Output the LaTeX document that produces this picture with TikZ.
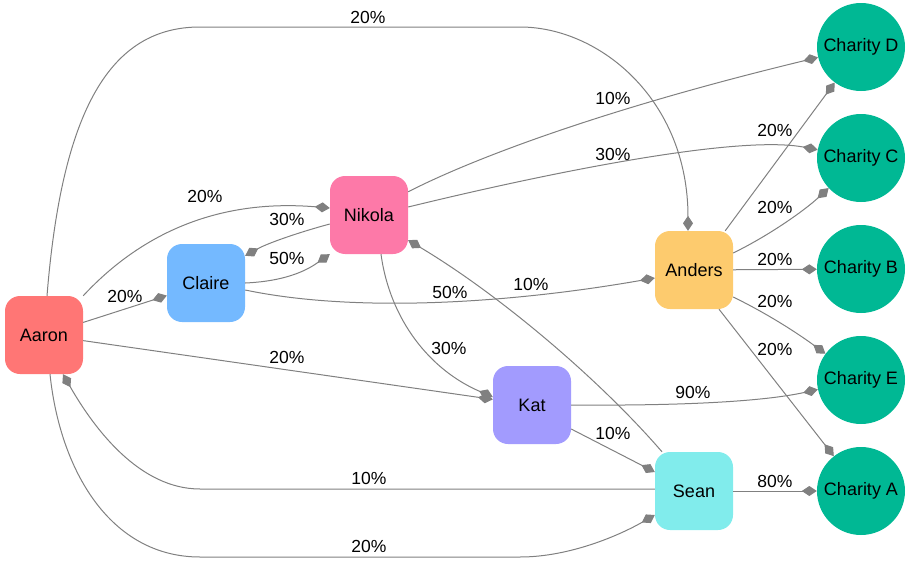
\documentclass[tikz,border=0pt]{standalone}
\usepackage{fontspec}
\setmainfont{Liberation Sans}
\usepackage{xcolor}
\usetikzlibrary{arrows.meta}
\definecolor{aaronred}{HTML}{FF7675}
\definecolor{claireblue}{HTML}{74B9FF}
\definecolor{nikolapink}{HTML}{FD79A8}
\definecolor{andersyellow}{HTML}{FDCB6E}
\definecolor{katviolet}{HTML}{A29BFE}
\definecolor{seancyan}{HTML}{81ECEC}
\definecolor{charitygreen}{HTML}{00B894}
\definecolor{edgegray}{HTML}{808080}

\begin{document}
\begin{tikzpicture}[x=1pt,y=-1pt,>={Diamond[length=15pt,width=10pt]}]
  \tikzstyle{person}=[rounded corners=15pt,minimum width=78pt,minimum height=78pt,font=\fontsize{18}{21}\selectfont]
  \tikzstyle{charity}=[circle,fill=charitygreen,minimum size=88pt,inner sep=0pt,font=\fontsize{18}{21}\selectfont]
  \tikzstyle{flow}=[->,draw=edgegray,line width=1pt]
  \tikzstyle{pct}=[font=\fontsize{17.5}{20}\selectfont]
  \useasboundingbox (0,0) rectangle (911,562);
  % donors
  \node[person,fill=aaronred] (aaron) at (44,335) {Aaron};
  \node[person,fill=claireblue] (claire) at (206,283) {Claire};
  \node[person,fill=nikolapink] (nikola) at (369,215) {Nikola};
  \node[person,fill=andersyellow] (anders) at (694,270) {Anders};
  \node[person,fill=katviolet] (kat) at (532,405) {Kat};
  \node[person,fill=seancyan] (sean) at (694,491) {Sean};
  % charities
  \node[charity] (charityD) at (861,47) {Charity D};
  \node[charity] (charityC) at (861,158) {Charity C};
  \node[charity] (charityB) at (861,269) {Charity B};
  \node[charity] (charityE) at (861,380) {Charity E};
  \node[charity] (charityA) at (861,491) {Charity A};
  % Aaron
  \draw[flow] ([xshift=3pt]aaron.north) .. controls (62,110) and (110,27) .. (200,27) -- (520,27) .. controls (600,27) and (688,100) .. ([xshift=-6pt]anders.north) node[pct] at (368,17) {20\%};
  \draw[flow] (aaron.north east) .. controls (135,240) and (210,198) .. ([yshift=7pt]nikola.west) node[pct] at (205,196) {20\%};
  \draw[flow] (aaron) -- (claire) node[pct] at (125,296) {20\%};
  \draw[flow] (aaron) -- (kat) node[pct] at (287,357) {20\%};
  \draw[flow] ([xshift=6pt]aaron.south) .. controls (60,470) and (110,557) .. (200,557) -- (520,557) .. controls (570,557) and (620,535) .. ([yshift=-24pt]sean.west) node[pct] at (369,546) {20\%};
  % Claire
  \draw[flow] (claire.east) .. controls (290,281) and (310,268) .. (nikola.south west) node[pct] at (287,258) {50\%};
  \draw[flow] ([yshift=-7pt]claire.east) .. controls (350,312) and (500,305) .. ([yshift=-8pt]anders.west) node[pct] at (450,292) {50\%};
  % Nikola
  \draw[flow] ([yshift=-9pt]nikola.west) .. controls (300,232) and (268,243) .. ([yshift=-12pt]claire.north east) node[pct] at (287,219) {30\%};
  \draw[flow] ([yshift=-16pt]nikola.north east) .. controls (470,160) and (600,110) .. (charityD) node[pct] at (613,98) {10\%};
  \draw[flow] ([yshift=8pt]nikola.east) .. controls (560,170) and (740,135) .. (charityC) node[pct] at (613,154) {30\%};
  \draw[flow] ([xshift=12pt]nikola.south) .. controls (390,320) and (430,370) .. ([yshift=8pt]kat.west) node[pct] at (449,348) {30\%};
  % Anders
  \draw[flow] ([xshift=-8pt]anders.north east) -- (charityD) node[pct] at (775,130) {20\%};
  \draw[flow] ([yshift=17pt]anders.east) .. controls (770,235) and (805,210) .. (charityC) node[pct] at (775,207) {20\%};
  \draw[flow] (anders) -- (charityB) node[pct] at (775,259) {20\%};
  \draw[flow] ([yshift=-27pt]anders.east) .. controls (770,315) and (800,335) .. (charityE) node[pct] at (775,301) {20\%};
  \draw[flow] ([xshift=25pt]anders.south) -- (charityA) node[pct] at (775,349) {20\%};
  % Kat
  \draw[flow] (kat.east) .. controls (700,406) and (770,400) .. (charityE) node[pct] at (693,392) {90\%};
  \draw[flow] ([yshift=-24pt]kat.east) -- ([yshift=19pt]sean.west) node[pct] at (613,433) {10\%};
  % Sean
  \draw[flow] (sean) -- (charityA) node[pct] at (775,481) {80\%};
  \draw[flow] ([yshift=2pt]sean.west) -- (200,489) .. controls (140,489) and (95,430) .. ([xshift=19pt]aaron.south) node[pct] at (369,478) {10\%};
  \draw[flow] ([xshift=-32pt]sean.north) .. controls (600,380) and (500,295) .. ([yshift=14pt]nikola.south east) node[pct] at (531,284) {10\%};
\end{tikzpicture}
\end{document}
